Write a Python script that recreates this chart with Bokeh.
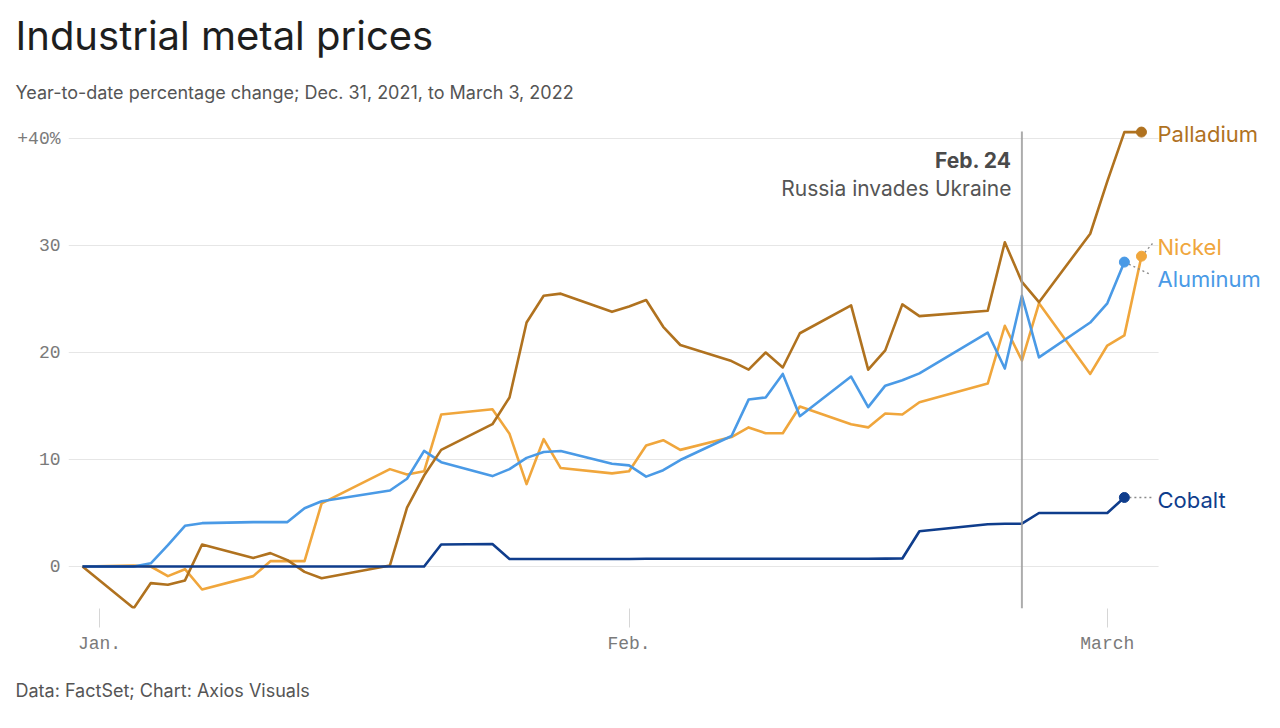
import pandas as pd
from bokeh.plotting import figure
from bokeh.models import Range1d, FixedTicker, Title, ColumnDataSource
from bokeh.core.properties import value
from bokeh.embed import file_html
from bokeh.resources import INLINE

# ---------------- data ----------------
dates = ["2021-12-31", "2022-01-03", "2022-01-04", "2022-01-05", "2022-01-06", "2022-01-07",
         "2022-01-10", "2022-01-11", "2022-01-12", "2022-01-13", "2022-01-14", "2022-01-18",
         "2022-01-19", "2022-01-20", "2022-01-21", "2022-01-24", "2022-01-25", "2022-01-26",
         "2022-01-27", "2022-01-28", "2022-01-31", "2022-02-01", "2022-02-02", "2022-02-03",
         "2022-02-04", "2022-02-07", "2022-02-08", "2022-02-09", "2022-02-10", "2022-02-11",
         "2022-02-14", "2022-02-15", "2022-02-16", "2022-02-17", "2022-02-18", "2022-02-22",
         "2022-02-23", "2022-02-24", "2022-02-25", "2022-02-28", "2022-03-01", "2022-03-02",
         "2022-03-03"]

palladium = [0, -3.9, -1.55, -1.7, -1.3, 2.05, 0.8, 1.25, 0.6, -0.5, -1.1, 0.1, 5.5, 8.5,
             10.9, 13.3, 15.8, 22.8, 25.3, 25.5, 23.8, 24.3, 24.9, 22.4, 20.7, 19.2, 18.4,
             20.0, 18.6, 21.8, 24.4, 18.4, 20.2, 24.5, 23.4, 23.9, 30.3, 26.6, 24.7, 31.1,
             36.0, 40.6, 40.6]

nickel = [0, 0.1, 0.0, -0.9, -0.25, -2.15, -0.9, 0.5, 0.5, 0.5, 5.9, 9.1, 8.6, 8.9, 14.2,
          14.7, 12.4, 7.7, 11.9, 9.2, 8.7, 8.9, 11.3, 11.8, 10.9, 12.1, 13.0, 12.45, 12.45,
          14.95, 13.3, 13.0, 14.3, 14.2, 15.35, 17.1, 22.5, 19.25, 24.6, 18.0, 20.65, 21.6,
          29.0]

aluminum = [0, 0.0, 0.3, 2.0, 3.8, 4.05, 4.15, 4.15, 4.15, 5.45, 6.1, 7.1, 8.2, 10.8, 9.75,
            8.45, 9.1, 10.15, 10.7, 10.8, 9.6, 9.45, 8.4, 9.0, 9.95, 12.2, 15.6, 15.8, 18.0,
            14.05, 17.75, 14.9, 16.9, 17.4, 18.05, 21.85, 18.5, 25.3, 19.55, 22.8, 24.6,
            28.45]

cobalt = [0, 0, 0, 0, 0, 0, 0, 0, 0, 0, 0, 0, 0, 0, 2.05, 2.1, 0.7, 0.7, 0.7, 0.7, 0.7,
          0.7, 0.72, 0.72, 0.72, 0.72, 0.72, 0.72, 0.72, 0.72, 0.72, 0.72, 0.74, 0.75, 3.3,
          3.95, 4.0, 4.0, 5.0, 5.0, 5.0, 6.45]

series_names = ["Palladium", "Nickel", "Aluminum", "Cobalt"]
series_values = [palladium, nickel, aluminum, cobalt]

y_ticks = [0, 10, 20, 30, 40]
y_tick_labels = ["0", "10", "20", "30", "+40%"]
x_ticks = ["2022-01-01", "2022-02-01", "2022-03-01"]
x_tick_labels = ["Jan.", "Feb.", "March"]

event_date = "2022-02-24"
event_title = "Feb. 24"
event_text = "Russia invades Ukraine"

title_text = "Industrial metal prices"
subtitle_text = "Year-to-date percentage change; Dec. 31, 2021, to March 3, 2022"
footer_text = "Data: FactSet; Chart: Axios Visuals"

# ---------------- styles / layout ----------------
colors = {"Palladium": "#b0721f", "Nickel": "#f0a63c", "Aluminum": "#4a9ae6", "Cobalt": "#0f3d8c"}
draw_order = ["Nickel", "Aluminum", "Palladium", "Cobalt"]
FONT = "Inter"
MONO = "Liberation Mono"

W, H = 1272, 725
FRAME_L, FRAME_R, FRAME_T, FRAME_B = 68, 1265, 118, 608   # page pixels
ZERO_X_PX, ZERO_Y_PX = 82, 566                            # page px of first date / 0 %
PX_PER_DAY, PX_PER_UNIT = 17.08, 10.7
DAY_MS = 86400000.0


def ms(d):
    return (pd.Timestamp(d) - pd.Timestamp("1970-01-01")) / pd.Timedelta(milliseconds=1)


BASE_MS = ms(dates[0])


def px_x(px):
    return BASE_MS + (px - ZERO_X_PX) / PX_PER_DAY * DAY_MS


def px_y(py):
    return (ZERO_Y_PX - py) / PX_PER_UNIT


p = figure(width=W, height=H, x_axis_type="datetime",
           x_range=Range1d(px_x(FRAME_L), px_x(FRAME_R)),
           y_range=Range1d(px_y(FRAME_B), px_y(FRAME_T)),
           output_backend="svg", toolbar_location=None,
           min_border_left=FRAME_L, min_border_right=W - FRAME_R,
           min_border_top=FRAME_T, min_border_bottom=H - FRAME_B)
p.outline_line_color = None
p.background_fill_color = "white"
p.border_fill_color = "white"
p.xgrid.visible = False
p.ygrid.visible = False

# titles
p.add_layout(Title(text=subtitle_text, text_font=FONT, text_font_size="18px",
                   text_font_style="normal", text_color="#555555", align="left",
                   offset=15 - FRAME_L, standoff=32), "above")
p.add_layout(Title(text=title_text, text_font=FONT, text_font_size="40px",
                   text_font_style="normal", text_color="#1e1e1e", align="left",
                   offset=15 - FRAME_L, standoff=8), "above")
p.add_layout(Title(text=footer_text, text_font=FONT, text_font_size="18px",
                   text_font_style="normal", text_color="#555555", align="left",
                   vertical_align="top", offset=15 - FRAME_L, standoff=46), "below")

# y axis
p.yaxis.ticker = FixedTicker(ticks=y_ticks)
p.yaxis.major_label_overrides = dict(zip(y_ticks, y_tick_labels))
p.yaxis.axis_line_color = None
p.yaxis.major_tick_line_color = None
p.yaxis.minor_tick_line_color = None
p.yaxis.major_label_standoff = 2
p.yaxis.major_label_text_font = MONO
p.yaxis.major_label_text_font_size = "18px"
p.yaxis.major_label_text_color = "#7a7a7a"

# x axis
xt = [ms(t) for t in x_ticks]
p.xaxis.ticker = FixedTicker(ticks=xt)
p.xaxis.major_label_overrides = dict(zip(xt, x_tick_labels))
p.xaxis.axis_line_color = None
p.xaxis.major_tick_line_color = "#d6d6d6"
p.xaxis.major_tick_line_width = 1
p.xaxis.major_tick_out = 19
p.xaxis.major_tick_in = 0
p.xaxis.minor_tick_line_color = None
p.xaxis.major_label_standoff = 6
p.xaxis.major_label_text_font = MONO
p.xaxis.major_label_text_font_size = "18px"
p.xaxis.major_label_text_color = "#7a7a7a"

# grid lines (manual, ending at Mar 4)
grid_end = ms("2022-03-04")
p.segment(x0=[px_x(FRAME_L)] * len(y_ticks), x1=[grid_end] * len(y_ticks),
          y0=y_ticks, y1=y_ticks, line_color="#e6e6e6", line_width=1.2)

# series lines
xs_all = [ms(d) for d in dates]
last_pts = {}
for name in draw_order:
    vals = series_values[series_names.index(name)]
    xs = xs_all[:len(vals)]
    p.line(xs, vals, line_color=colors[name], line_width=2.6, line_join="round")
    last_pts[name] = (xs[-1], vals[-1])

# event line
ev = ms(event_date)
p.segment(x0=[ev], x1=[ev], y0=[px_y(FRAME_B)], y1=[px_y(131)],
          line_color="#9e9e9e", line_width=2, line_alpha=0.85)

# series labels + leaders
label_y_px = {"Palladium": 133, "Nickel": 246, "Aluminum": 278, "Cobalt": 499}
leader_end_px = {"Nickel": (1152, 243), "Aluminum": (1150, 274), "Cobalt": (1153, 497)}
lead = ColumnDataSource(dict(
    x0=[last_pts[n][0] for n in leader_end_px], y0=[last_pts[n][1] for n in leader_end_px],
    x1=[px_x(leader_end_px[n][0]) for n in leader_end_px],
    y1=[px_y(leader_end_px[n][1]) for n in leader_end_px]))
p.segment("x0", "y0", "x1", "y1", source=lead, line_color="#8a8a8a", line_width=1.4,
          line_dash="2 3")

for name in series_names:
    lx, ly = last_pts[name]
    p.scatter([lx], [ly], size=10, fill_color=colors[name], line_color=colors[name])

lab = ColumnDataSource(dict(
    x=[px_x(1157)] * 4, y=[px_y(label_y_px[n]) for n in series_names],
    text=series_names, color=[colors[n] for n in series_names]))
p.text("x", "y", text="text", source=lab, text_color="color", text_font=value(FONT),
       text_font_size="22px", text_baseline="middle", text_align="left")

# event annotation
p.text(x=[px_x(1011)], y=[px_y(160)], text=[event_title], text_font=value(FONT),
       text_font_size="21px", text_font_style="bold", text_color="#4a4a4a",
       text_align="right", text_baseline="middle")
p.text(x=[px_x(1011)], y=[px_y(188)], text=[event_text], text_font=value(FONT),
       text_font_size="21px", text_color="#555555",
       text_align="right", text_baseline="middle")

open("out.html", "w").write(file_html(p, INLINE))
